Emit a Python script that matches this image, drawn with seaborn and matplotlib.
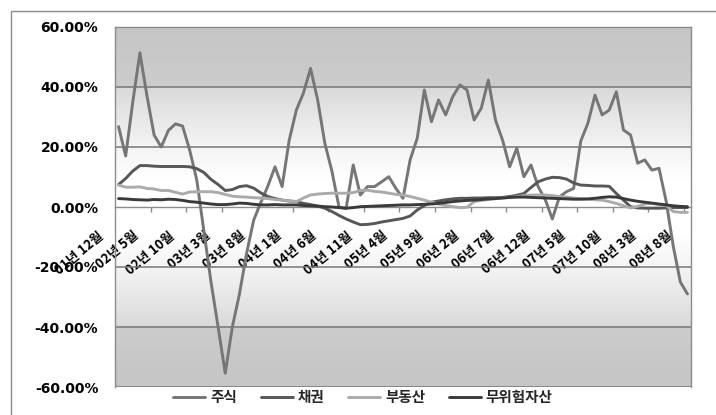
import numpy as np
import pandas as pd
import matplotlib
matplotlib.use("Agg")
import matplotlib.pyplot as plt
from matplotlib.transforms import ScaledTranslation
from matplotlib.patches import Rectangle
from matplotlib.lines import Line2D
import seaborn as sns

# Monthly return series, Dec 2001 .. Aug 2008 (percent)
stocks = [26.8, 17.0, 35.0, 51.4, 37.0, 24.0, 20.0, 25.5, 27.7, 27.0,
          19.0, 9.0, -8.0, -25.0, -40.0, -55.4, -40.0, -29.0, -15.5, -4.4,
          1.5, 7.0, 13.4, 6.8, 22.3, 32.3, 38.0, 46.2, 35.7, 21.3,
          12.0, 0.0, -0.5, 14.0, 4.0, 6.8, 6.8, 8.4, 10.1, 6.2,
          2.9, 15.7, 22.9, 39.0, 28.4, 35.7, 30.7, 36.8, 40.7, 39.0,
          29.0, 32.9, 42.3, 29.0, 22.3, 13.4, 19.6, 10.1, 14.0, 6.8,
          2.5, -4.0, 3.4, 5.1, 6.2, 22.0, 27.9, 37.3, 30.7, 32.3,
          38.4, 25.7, 24.0, 14.6, 15.7, 12.3, 12.9, 2.0, -13.0, -25.0,
          -29.0]
bonds = [7.5, 9.5, 12.0, 13.8, 13.8, 13.6, 13.5, 13.5, 13.5, 13.5,
         13.4, 12.8, 11.5, 9.2, 7.5, 5.5, 5.8, 6.8, 7.1, 6.3,
         4.7, 3.5, 2.8, 2.3, 2.0, 1.8, 1.2, 0.8, 0.3, -0.4,
         -1.5, -2.8, -4.0, -5.0, -5.9, -5.8, -5.5, -5.0, -4.6, -4.2,
         -3.8, -3.0, -1.0, 0.5, 1.6, 2.0, 2.4, 2.7, 2.9, 2.9,
         3.0, 3.0, 3.1, 3.1, 3.2, 3.5, 3.9, 4.5, 6.5, 8.4,
         9.3, 9.9, 9.8, 9.3, 8.0, 7.3, 7.2, 7.0, 7.0, 6.9,
         4.5, 2.3, 0.1, -0.3, -0.4, -0.4, -0.4, -0.3, -0.2, -0.2,
         -0.2]
real_estate = [7.3, 6.6, 6.6, 6.7, 6.2, 6.0, 5.5, 5.5, 4.9, 4.3,
               5.0, 5.1, 5.1, 5.1, 4.8, 4.2, 3.6, 3.4, 3.3, 3.1,
               3.0, 2.8, 2.5, 2.3, 2.0, 1.8, 3.0, 4.0, 4.3, 4.5,
               4.6, 4.6, 4.6, 4.8, 5.5, 5.6, 5.2, 5.0, 4.6, 4.2,
               4.0, 3.5, 2.9, 2.3, 1.6, 1.0, 0.5, 0.1, -0.2, -0.1,
               1.8, 2.2, 2.5, 2.8, 3.0, 3.2, 3.5, 3.8, 4.0, 4.0,
               4.0, 3.8, 3.5, 3.3, 3.0, 2.8, 2.6, 2.4, 2.3, 1.8,
               1.2, 0.4, -0.3, 0.2, 1.0, 1.2, 0.8, 0.5, -1.5, -1.8,
               -1.8]
risk_free = [2.8, 2.7, 2.5, 2.4, 2.3, 2.5, 2.4, 2.6, 2.5, 2.2,
             1.8, 1.6, 1.3, 1.0, 0.8, 0.8, 1.0, 1.3, 1.2, 0.9,
             0.7, 0.7, 0.8, 0.7, 0.7, 0.7, 0.5, 0.4, 0.3, 0.1,
             0.0, -0.2, -0.4, -0.2, 0.1, 0.2, 0.3, 0.4, 0.5, 0.6,
             0.7, 0.7, 0.8, 0.9, 1.0, 1.2, 1.5, 1.8, 2.0, 2.2,
             2.3, 2.5, 2.7, 2.8, 3.0, 3.2, 3.3, 3.3, 3.2, 3.1,
             3.0, 2.9, 2.8, 2.7, 2.6, 2.6, 2.7, 2.9, 3.2, 3.4,
             3.3, 2.8, 2.3, 1.9, 1.6, 1.3, 1.0, 0.7, 0.4, 0.2,
             0.1]

series_names = ["주식", "채권", "부동산", "무위험자산"]
series_colors = ["#767676", "#575757", "#ababab", "#3a3a3a"]

tick_labels = ["01년 12월", "02년 5월", "02년 10월", "03년 3월", "03년 8월",
               "04년 1월", "04년 6월", "04년 11월", "05년 4월", "05년 9월",
               "06년 2월", "06년 7월", "06년 12월", "07년 5월", "07년 10월",
               "08년 3월", "08년 8월"]
y_ticks = [-60, -40, -20, 0, 20, 40, 60]

n = len(stocks)
month_idx = np.arange(n)
df = pd.DataFrame({
    "month": np.tile(month_idx, 4),
    "ret": stocks + bonds + real_estate + risk_free,
    "asset": np.repeat(series_names, n),
})

sns.set_theme(style="white")
plt.rcParams["font.family"] = ["Noto Sans CJK KR", "DejaVu Sans"]

W, H = 716, 415
fig = plt.figure(figsize=(W / 100, H / 100), dpi=100, facecolor="white")
ax = fig.add_axes([115 / W, 1 - 387 / H, 576 / W, 360 / H])

# outer chart border
fig.add_artist(Rectangle((11 / W, -0.1), 1.2, 1 - 11 / H + 0.1,
                         transform=fig.transFigure, fill=False,
                         edgecolor="#8c8c8c", linewidth=1.0, zorder=0))

# plot-area background: grey at the edges, fading to white around zero
edges = np.arange(-60, 60.01, 1.0)
for lo, hi in zip(edges[:-1], edges[1:]):
    a = abs((lo + hi) / 2)
    if a >= 40:
        g = 0.80 - 0.03 * (a - 40) / 20
    else:
        g = 1.0 - 0.15 * max(0.0, (a - 8) / 32) ** 1.2
    ax.axhspan(lo, hi, facecolor=(g, g, g), edgecolor="none",
               linewidth=0, zorder=0)

palette = dict(zip(series_names, series_colors))
sns.lineplot(data=df, x="month", y="ret", hue="asset", palette=palette,
             hue_order=series_names, linewidth=2.1, ax=ax, legend=False,
             sort=False, zorder=3)

# horizontal gridlines
for v in y_ticks:
    if v != 0:
        ax.axhline(v, color="#777777", linewidth=1.1, zorder=2.5)

ax.set_xlim(-0.5, n - 0.5)
ax.set_ylim(-60, 60)
ax.set_xlabel("")
ax.set_ylabel("")

for side in ["left", "right", "top"]:
    ax.spines[side].set_color("#8c8c8c")
    ax.spines[side].set_linewidth(1.0)
    ax.spines[side].set_visible(True)
ax.spines["bottom"].set_position(("data", 0))
ax.spines["bottom"].set_color("#8c8c8c")
ax.spines["bottom"].set_linewidth(1.0)
ax.spines["bottom"].set_zorder(2.5)

ax.set_yticks(y_ticks)
ax.set_yticklabels([f"{v:.2f}%" for v in y_ticks], fontsize=10,
                   fontweight="bold", family="DejaVu Sans", color="black")
ax.tick_params(axis="y", length=0, pad=12)

ax.set_xticks(np.arange(0, n, 5))
ax.set_xticklabels(tick_labels, rotation=40, ha="right", va="center",
                   rotation_mode="anchor", fontsize=9.5, fontweight="bold",
                   color="black")
ax.set_xticks(np.arange(4.5, n - 1, 5), minor=True)
ax.tick_params(axis="x", which="major", length=0, pad=0)
ax.tick_params(axis="x", which="minor", length=3.5, width=1.0,
               color="#8c8c8c", direction="out", bottom=True)
shift = ScaledTranslation(-17 / 100, -27 / 100, fig.dpi_scale_trans)
for lab in ax.get_xticklabels():
    lab.set_transform(lab.get_transform() + shift)

handles = [Line2D([], [], color=c, linewidth=2.1) for c in series_colors]
fig.legend(handles, series_names, loc="center",
           bbox_to_anchor=(363 / W, 1 - 397 / H), ncol=4, frameon=False,
           prop={"family": ["Noto Sans CJK KR", "DejaVu Sans"],
                 "weight": "bold", "size": 10.5},
           handlelength=2.2, handletextpad=0.35, columnspacing=1.6)

fig.savefig("out.png", dpi=100, facecolor="white")
